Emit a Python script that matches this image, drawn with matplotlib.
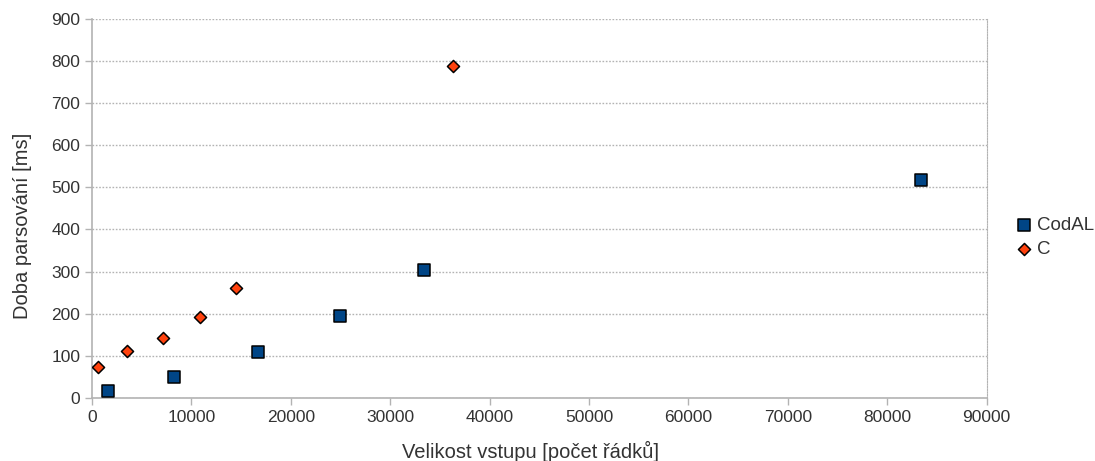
import matplotlib.pyplot as plt
from matplotlib.ticker import MultipleLocator

plt.rcParams['font.family'] = ['Liberation Sans', 'DejaVu Sans']

# CodAL
codal_x = [1600, 8300, 16700, 25000, 33400, 83400]
codal_y = [17, 50, 109, 195, 304, 518]
# C
c_x = [600, 3500, 7100, 10900, 14500, 36300]
c_y = [74, 112, 143, 192, 261, 787]

fig = plt.figure(figsize=(10.95, 4.61), dpi=100)
ax = fig.add_axes([0.084, 0.137, 0.817, 0.822])

ax.scatter(codal_x, codal_y, marker='s', s=75, c='#004586', edgecolors='black',
           linewidths=1.1, label='CodAL', zorder=3)
ax.scatter(c_x, c_y, marker='D', s=38, c='#ff420e', edgecolors='black',
           linewidths=1.1, label='C', zorder=3)

ax.set_xlim(0, 90000)
ax.set_ylim(0, 900)
ax.xaxis.set_major_locator(MultipleLocator(10000))
ax.yaxis.set_major_locator(MultipleLocator(100))

ax.grid(axis='y', color='#b3b3b3', linestyle=(0, (1.2, 1.2)), linewidth=1)
ax.set_axisbelow(True)
for s in ['left', 'bottom']:
    ax.spines[s].set_color('#b3b3b3')
    ax.spines[s].set_linewidth(1.2)
ax.spines['top'].set_visible(False)
ax.spines['right'].set_color('#b3b3b3')
ax.spines['right'].set_linestyle((0, (1.2, 1.2)))
ax.tick_params(axis='both', colors='#b3b3b3', labelcolor='#333333',
               labelsize=12.5, length=5, width=1)

ax.set_xlabel('Velikost vstupu [počet řádků]', fontsize=14.5, color='#333333', labelpad=11.5)
ax.set_ylabel('Doba parsování [ms]', fontsize=14.5, color='#333333', labelpad=14)
ax.xaxis.label.set_x(0.4905)
ax.yaxis.label.set_y(0.455)

fig.legend(loc='center left', bbox_to_anchor=(1015 / 1095, 1 - 237.5 / 461),
           frameon=False, fontsize=13.5, handlelength=1, handletextpad=0.2,
           borderpad=0, borderaxespad=0, labelspacing=0.4, labelcolor='#333333')

fig.savefig('out.png')
